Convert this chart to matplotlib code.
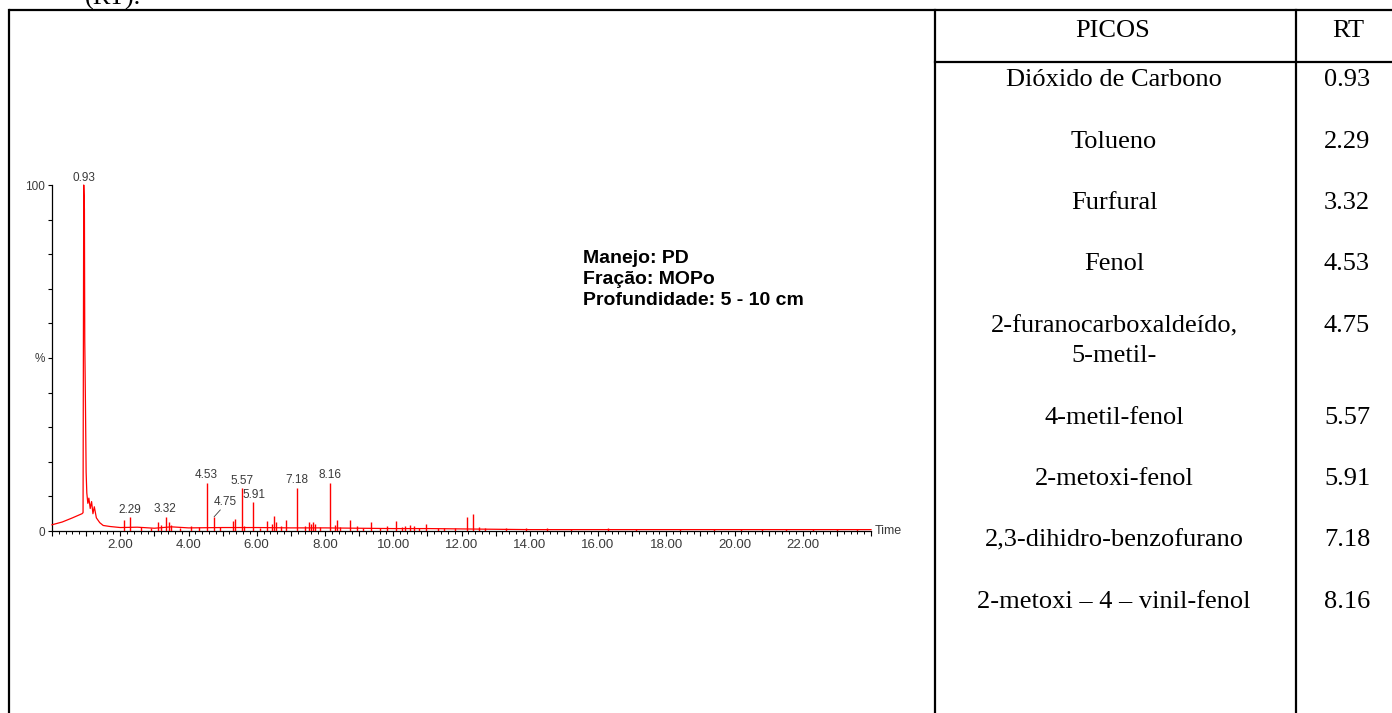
import matplotlib.pyplot as plt
from matplotlib.ticker import MultipleLocator, FuncFormatter

# trace envelope: solvent front, CO2 peak and its tail, then baseline (min, %)
trace_t = [0.0, 0.3, 0.6, 0.88, 0.91, 0.93, 0.95, 0.96, 0.98, 1.0, 1.02, 1.05,
           1.08, 1.12, 1.16, 1.2, 1.24, 1.3, 1.4, 1.5, 1.7, 2.0, 2.5, 3.0,
           3.5, 4.0, 5.0, 6.0, 7.0, 8.0, 9.0, 10.0, 11.0, 12.0, 13.0, 14.0,
           16.0, 18.0, 20.0, 22.0, 24.0]
trace_h = [1.8, 2.6, 3.8, 5.0, 5.3, 100.0, 93.0, 55.0, 37.0, 17.0, 11.0, 8.0,
           9.5, 6.5, 8.5, 5.0, 7.0, 3.8, 2.4, 1.6, 1.3, 1.0, 1.1, 0.8,
           1.2, 0.9, 1.0, 1.0, 0.9, 0.9, 0.8, 0.7, 0.7, 0.6, 0.5, 0.4,
           0.4, 0.4, 0.4, 0.4, 0.4]

# individual peaks (retention time in min, relative abundance %)
peak_rt = [2.11, 2.30, 2.6, 2.9, 3.12, 3.20, 3.33, 3.43, 3.50, 3.75, 4.08,
           4.30, 4.55, 4.75, 4.92, 5.30, 5.35, 5.56, 5.62, 5.90, 6.10, 6.31,
           6.45, 6.51, 6.56, 6.72, 6.87, 7.18, 7.42, 7.52, 7.58, 7.65, 7.72,
           7.85, 8.15, 8.28, 8.35, 8.45, 8.74, 8.95, 9.10, 9.36, 9.60, 9.83,
           10.08, 10.25, 10.35, 10.50, 10.60, 10.75, 10.96, 11.30, 11.50,
           11.80, 12.15, 12.35, 12.50, 12.70, 13.30, 13.90, 14.50, 15.20,
           16.30, 17.10, 18.40, 19.40, 20.20, 20.80, 21.50, 22.30, 23.00,
           23.60]
peak_h = [3.2, 4.0, 1.2, 1.0, 2.7, 1.8, 4.1, 2.5, 1.8, 1.0, 1.5,
          1.2, 14.0, 4.1, 1.3, 3.0, 3.4, 12.3, 1.5, 8.3, 1.0, 2.9,
          2.0, 4.3, 2.5, 1.5, 3.2, 12.5, 1.5, 2.7, 2.0, 2.5, 2.0,
          1.2, 14.0, 1.8, 3.2, 1.2, 3.2, 1.5, 1.0, 2.7, 1.0, 1.5,
          2.9, 1.2, 1.5, 1.8, 1.5, 1.0, 2.0, 1.0, 0.9,
          1.0, 4.1, 4.9, 1.2, 1.0, 0.9, 0.8, 0.8, 0.7,
          1.0, 0.6, 0.6, 0.6, 0.7, 0.7, 0.7, 0.7, 0.6,
          0.6]

label_rt = [0.93, 2.29, 3.32, 4.53, 4.75, 5.57, 5.91, 7.18, 8.16]
label_h = [100.0, 4.0, 4.1, 14.0, 4.1, 12.3, 8.3, 12.5, 14.0]

info_lines = ["Manejo: PD", "Fração: MOPo", "Profundidade: 5 - 10 cm"]

picos = ["Dióxido de Carbono", "Tolueno", "Furfural", "Fenol",
         "2-furanocarboxaldeído,\n5-metil-", "4-metil-fenol", "2-metoxi-fenol",
         "2,3-dihidro-benzofurano", "2-metoxi – 4 – vinil-fenol"]
picos_rt = ["0.93", "2.29", "3.32", "4.53", "4.75", "5.57", "5.91", "7.18", "8.16"]

W, H = 1392, 713
fig = plt.figure(figsize=(W / 100, H / 100), dpi=100)

# page overlay in pixel units for the table frame
page = fig.add_axes([0, 0, 1, 1])
page.set_xlim(0, W)
page.set_ylim(H, 0)
page.axis("off")

lw_frame = 1.6
page.plot([9, W], [10, 10], color="black", lw=lw_frame, solid_capstyle="butt")
page.plot([9, 9], [10, H], color="black", lw=lw_frame)
page.plot([935, 935], [10, H], color="black", lw=lw_frame)
page.plot([1296, 1296], [10, H], color="black", lw=lw_frame)
page.plot([935, W], [62, 62], color="black", lw=lw_frame)

page.text(85, 5, "(RT).", family="Liberation Serif", fontsize=19, va="baseline")

serif = dict(family="Liberation Serif", fontsize=19, va="baseline")
page.text(1113, 37, "PICOS", ha="center", **serif)
page.text(1348, 37, "RT", ha="center", **serif)

row_y = 86
for name, rt in zip(picos, picos_rt):
    parts = name.split("\n")
    for k, line in enumerate(parts):
        page.text(1114, row_y + 30 * k, line, ha="center", **serif)
    page.text(1347, row_y, rt, ha="center", **serif)
    row_y += 61.5 + 30 * (len(parts) - 1)

sans = "Liberation Sans"
gray = "#3a3a3a"

# sample description block
for k, line in enumerate(info_lines):
    page.text(583, 263 + 21 * k, line, family=sans, fontsize=14,
              fontweight="bold", va="baseline", ha="left", color="black")

# chromatogram
x0, x1, y0, y1 = 52, 871, 531, 185
ax = fig.add_axes([x0 / W, (H - y0) / H, (x1 - x0) / W, (y0 - y1) / H])
ax.patch.set_alpha(0)
red = "#ff0000"
ax.plot(trace_t, trace_h, color=red, lw=0.9, clip_on=False)
ax.vlines(peak_rt, 0, peak_h, color=red, lw=1.0)

ax.set_xlim(0, 24)
ax.set_ylim(0, 100)
for s in ["top", "right"]:
    ax.spines[s].set_visible(False)
for s in ["left", "bottom"]:
    ax.spines[s].set_linewidth(0.9)
    ax.spines[s].set_zorder(0)

ax.xaxis.set_major_locator(MultipleLocator(1))
ax.xaxis.set_minor_locator(MultipleLocator(0.2))
ax.xaxis.set_major_formatter(
    FuncFormatter(lambda v, p: f"{v:.2f}" if 0 < v < 24 and round(v) % 2 == 0 else ""))
ax.yaxis.set_major_locator(MultipleLocator(50))
ax.yaxis.set_minor_locator(MultipleLocator(10))
ax.yaxis.set_major_formatter(
    FuncFormatter(lambda v, p: {0: "0", 50: "%", 100: "100"}.get(int(round(v)), "")))
ax.tick_params(axis="x", which="major", length=3.5, width=0.8, pad=2.5,
               labelsize=9.5, labelcolor=gray)
ax.tick_params(axis="x", which="minor", length=2.2, width=0.7)
ax.tick_params(axis="y", which="both", length=3, width=0.8, pad=2,
               labelsize=8.5, labelcolor=gray)
for t in ax.get_xticklabels() + ax.get_yticklabels():
    t.set_family(sans)

ax.text(1.004, 0, "Time", transform=ax.transAxes, family=sans, fontsize=9,
        color=gray, va="center", ha="left")

for rt, h in zip(label_rt, label_h):
    txt = f"{rt:.2f}"
    if rt == 4.75:
        ax.annotate(txt, xy=(rt, h), xytext=(0, 6.5), textcoords="offset points",
                    ha="left", va="bottom", family=sans, fontsize=8.5, color=gray)
        ax.annotate("", xy=(rt, h), xytext=(4.5, 5), textcoords="offset points",
                    arrowprops=dict(arrowstyle="-", color=gray, lw=0.6,
                                    shrinkA=0, shrinkB=0))
    else:
        ax.annotate(txt, xy=(rt, h), xytext=(0, 1), textcoords="offset points",
                    ha="center", va="bottom", family=sans, fontsize=8.5, color=gray,
                    annotation_clip=False)

fig.savefig("out.png", dpi=100)
